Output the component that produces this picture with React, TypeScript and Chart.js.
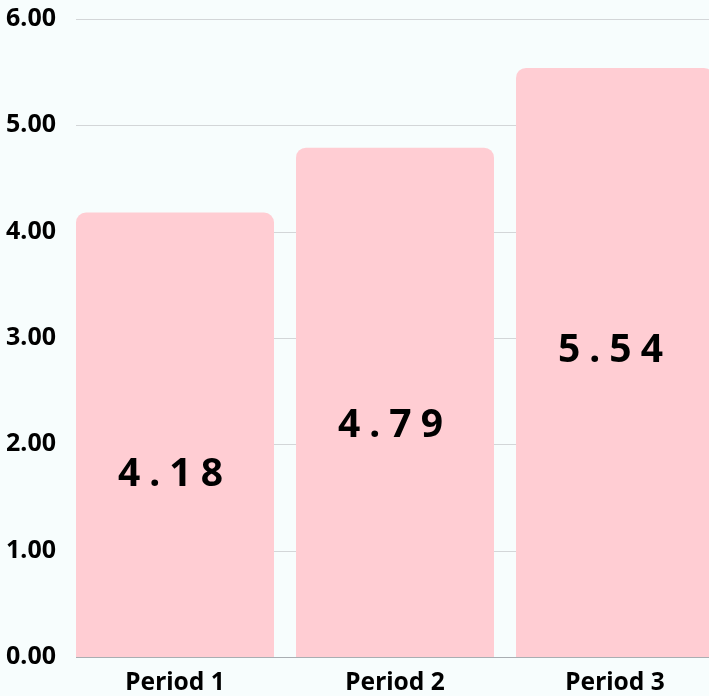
import React, { useEffect, useRef } from "react";
import { Chart, registerables } from "chart.js";

Chart.register(...registerables);

const categories = ["Period 1", "Period 2", "Period 3"];
const values = [4.18, 4.79, 5.54];
const labelAnchor = [0.41, 0.454, 0.52];
const yTicks = [0, 1, 2, 3, 4, 5, 6];

const BG = "#f7fdfd";
const BAR = "#ffcdd3";
const GRID = "#d3d6d8";
const AXIS = "#a9aeb2";
const GRID_START = 76;

const gridPlugin = {
  id: "customGrid",
  beforeDatasetsDraw(chart: any) {
    const ctx = chart.ctx;
    const yScale = chart.scales.y;
    ctx.save();
    ctx.lineWidth = 1;
    yTicks.forEach((v) => {
      const y = Math.round(yScale.getPixelForValue(v)) + 0.5;
      ctx.strokeStyle = v === 0 ? AXIS : GRID;
      ctx.beginPath();
      ctx.moveTo(GRID_START, y);
      ctx.lineTo(chart.width, y);
      ctx.stroke();
    });
    ctx.restore();
  },
};

const labelPlugin = {
  id: "barLabels",
  afterDatasetsDraw(chart: any) {
    const ctx = chart.ctx;
    const meta = chart.getDatasetMeta(0);
    ctx.save();
    ctx.font = "bold 39px 'Noto Sans'";
    ctx.fillStyle = "#000000";
    ctx.textAlign = "center";
    ctx.textBaseline = "middle";
    (ctx as any).letterSpacing = "9px";
    meta.data.forEach((bar: any, i: number) => {
      const text = values[i].toFixed(2);
      const y = bar.base - (bar.base - bar.y) * labelAnchor[i];
      ctx.fillText(text, bar.x, y);
    });
    ctx.restore();
  },
};

export default function App() {
  const ref = useRef<HTMLCanvasElement>(null);
  useEffect(() => {
    if (!ref.current) return;
    const chart = new Chart(ref.current, {
      type: "bar",
      data: {
        labels: categories,
        datasets: [
          {
            data: values,
            backgroundColor: BAR,
            borderRadius: 10,
            borderSkipped: "bottom",
            categoryPercentage: 0.9,
            barPercentage: 1,
          },
        ],
      },
      options: {
        animation: false,
        responsive: false,
        maintainAspectRatio: false,
        layout: { padding: { left: 0, right: 15, top: 19, bottom: 0 } },
        plugins: { legend: { display: false }, tooltip: { enabled: false } },
        scales: {
          x: {
            grid: { display: false, drawTicks: false },
            border: { display: false },
            afterFit: (s: any) => {
              s.height = 39;
              s.paddingLeft = 0;
              s.paddingRight = 0;
            },
            ticks: {
              padding: 11,
              color: "#000000",
              font: { family: "'Noto Sans'", size: 24.5, weight: "bold" },
            },
          },
          y: {
            min: 0,
            max: 6,
            afterBuildTicks: (axis: any) => {
              axis.ticks = yTicks.map((v) => ({ value: v }));
            },
            afterFit: (s: any) => {
              s.width = 65;
              s.paddingTop = 0;
              s.paddingBottom = 0;
            },
            grid: { display: false, drawTicks: false },
            border: { display: false },
            ticks: {
              padding: 9,
              color: "#000000",
              font: { family: "'Noto Sans'", size: 25, weight: "bold" },
              callback: (v: any) => Number(v).toFixed(2),
            },
          },
        },
      },
      plugins: [gridPlugin, labelPlugin],
    });
    return () => chart.destroy();
  }, []);
  return (
    <div
      style={{
        position: "fixed",
        left: 0,
        top: 0,
        width: 740,
        height: 696,
        background: BG,
      }}
    >
      <canvas ref={ref} width={740} height={696} style={{ display: "block" }} />
    </div>
  );
}
